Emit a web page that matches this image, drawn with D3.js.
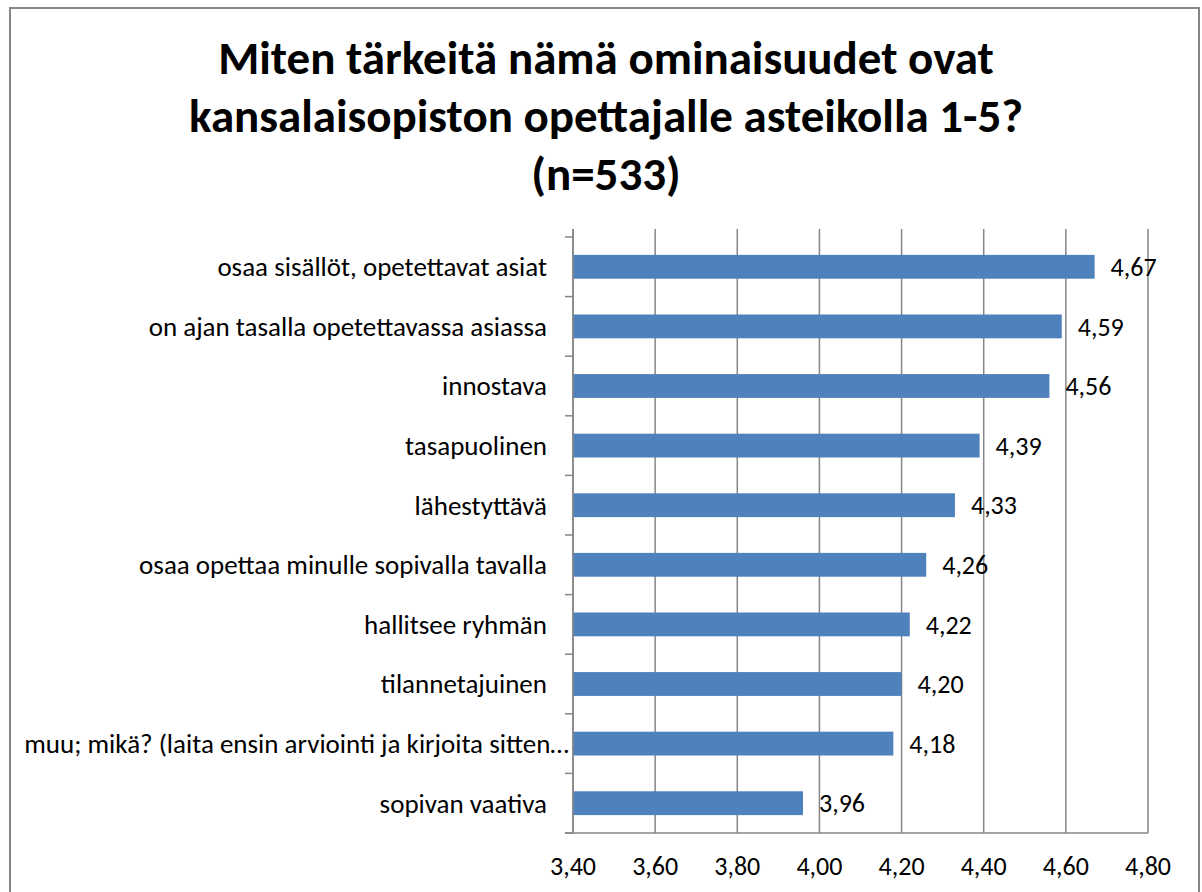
<!DOCTYPE html>
<html>
<head>
<meta charset="utf-8">
<script src="https://cdn.jsdelivr.net/npm/d3@7"></script>
<style>
  body { margin: 0; background: #fff; }
  svg text { font-family: Carlito, Lato, "Open Sans", sans-serif; fill: #000; }
</style>
</head>
<body>
<svg id="chart"></svg>
<script>
const titleLines = [
  'Miten tärkeitä nämä ominaisuudet ovat',
  'kansalaisopiston opettajalle asteikolla 1-5?',
  '(n=533)'
];
const categories = [
  'osaa sisällöt, opetettavat asiat',
  'on ajan tasalla opetettavassa asiassa',
  'innostava',
  'tasapuolinen',
  'lähestyttävä',
  'osaa opettaa minulle sopivalla tavalla',
  'hallitsee ryhmän',
  'tilannetajuinen',
  'muu; mikä? (laita ensin arviointi ja kirjoita sitten…',
  'sopivan vaativa'
];
const values = [4.67, 4.59, 4.56, 4.39, 4.33, 4.26, 4.22, 4.20, 4.18, 3.96];
const xTicks = [3.4, 3.6, 3.8, 4.0, 4.2, 4.4, 4.6, 4.8];

const W = 1202, H = 892;
const margin = { top: 237, right: 54, bottom: 59, left: 573 };
const width = W - margin.left - margin.right;
const height = H - margin.top - margin.bottom;
const gridColor = '#868686';
const fmt = v => d3.format('.2f')(v).replace('.', ',');

const root = d3.select('#chart').attr('width', W).attr('height', H);

// chart border
root.append('rect')
  .attr('x', 10).attr('y', 8)
  .attr('width', 1189).attr('height', 900)
  .attr('fill', 'none')
  .attr('stroke', gridColor)
  .attr('stroke-width', 2);

// title
root.append('text')
  .attr('x', 606)
  .attr('y', 74)
  .attr('text-anchor', 'middle')
  .attr('font-weight', 'bold')
  .attr('font-size', 47)
  .selectAll('tspan')
  .data(titleLines)
  .enter()
  .append('tspan')
  .attr('x', 606)
  .attr('dy', (d, i) => i === 0 ? 0 : 58)
  .text(d => d);

const svg = root.append('g')
  .attr('transform', `translate(${margin.left},${margin.top})`);

const x = d3.scaleLinear().domain([3.4, 4.8]).range([0, width]);
const y = d3.scaleBand()
  .domain(categories)
  .range([0, height])
  .paddingInner(0.6)
  .paddingOuter(0.3);

// vertical gridlines (extend a little above the plot top)
svg.append('g')
  .selectAll('line')
  .data(xTicks)
  .enter()
  .append('line')
  .attr('x1', d => x(d)).attr('x2', d => x(d))
  .attr('y1', -8).attr('y2', height)
  .attr('stroke', gridColor)
  .attr('stroke-width', 1.5);

// bottom axis line
svg.append('line')
  .attr('x1', -8).attr('x2', width)
  .attr('y1', height).attr('y2', height)
  .attr('stroke', gridColor)
  .attr('stroke-width', 1.5);

// category boundary ticks on the left
const boundaries = categories.map(c => y(c) - y.step() * y.paddingOuter()).concat([height]);
svg.append('g')
  .selectAll('line')
  .data(boundaries)
  .enter()
  .append('line')
  .attr('x1', -8).attr('x2', 0)
  .attr('y1', d => d).attr('y2', d => d)
  .attr('stroke', gridColor)
  .attr('stroke-width', 1.5);

// x tick labels
svg.append('g')
  .selectAll('text')
  .data(xTicks)
  .enter()
  .append('text')
  .attr('x', d => x(d))
  .attr('y', height + 42)
  .attr('text-anchor', 'middle')
  .attr('font-size', 26)
  .text(d => fmt(d));

// bars
svg.selectAll('.bar')
  .data(values)
  .enter()
  .append('rect')
  .attr('class', 'bar')
  .attr('x', 0)
  .attr('y', (d, i) => y(categories[i]))
  .attr('width', d => x(d))
  .attr('height', y.bandwidth())
  .attr('fill', '#4F81BD');

// y axis line
svg.append('line')
  .attr('x1', 0).attr('x2', 0)
  .attr('y1', -8).attr('y2', height)
  .attr('stroke', gridColor)
  .attr('stroke-width', 1.5);

// category labels
svg.append('g')
  .selectAll('text')
  .data(categories)
  .enter()
  .append('text')
  .attr('x', (d, i) => i === 8 ? -4 : -26)
  .attr('y', d => y(d) + y.bandwidth() / 2)
  .attr('dy', '0.35em')
  .attr('text-anchor', 'end')
  .attr('font-size', 27)
  .text(d => d);

// value labels
svg.append('g')
  .selectAll('text')
  .data(values)
  .enter()
  .append('text')
  .attr('x', d => x(d) + 16)
  .attr('y', (d, i) => y(categories[i]) + y.bandwidth() / 2)
  .attr('dy', '0.35em')
  .attr('font-size', 26)
  .text(d => fmt(d));
</script>
</body>
</html>
